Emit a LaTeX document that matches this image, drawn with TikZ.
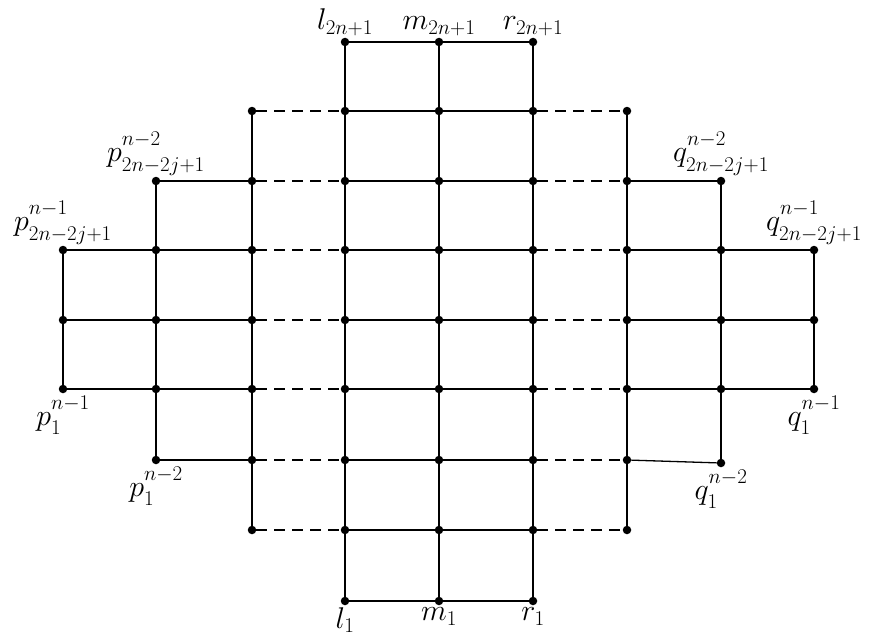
\RequirePackage{fix-cm}
\documentclass[tikz,border=0pt]{standalone}
\newcommand{\mylab}[3]{#1^{\raisebox{5pt}{$\scriptstyle #2$}}_{\raisebox{-2pt}{$\scriptstyle #3$}}}
\begin{document}
\begin{tikzpicture}[x=1pt,y=-1pt,
  dot/.style={circle,fill=black,inner sep=0pt,minimum size=8.5pt},
  edge/.style={line width=1.3pt},
  dedge/.style={line width=2pt,dash pattern=on 11pt off 7pt},
  lab/.style={font=\fontsize{30}{36}\selectfont,inner sep=1pt}]
\useasboundingbox (0,0) rectangle (869,642);
% dots
\foreach \r/\y/\s in {1/42/4,2/111/3,3/181/2,4/250/1,5/320/1,6/389/1,7/460/2,8/530/3,9/601/4}{
  \pgfmathtruncatemacro\e{10-\s}
  \foreach \c/\x in {1/63,2/156,3/252,4/345,5/439,6/533,7/627,8/721,9/814}{
    \pgfmathtruncatemacro\skipit{(\c<\s)||(\c>\e)||((\r==7)&&(\c==8))}
    \ifnum\skipit=0
      \node[dot] (n-\r-\c) at (\x,\y) {};
    \fi
  }
}
\node[dot] (n-7-8) at (721,463) {};
% horizontal edges
\foreach \r/\s in {1/4,2/3,3/2,4/1,5/1,6/1,7/2,8/3,9/4}{
  \pgfmathtruncatemacro\e{9-\s}
  \foreach \c in {\s,...,\e}{
    \pgfmathtruncatemacro\d{\c+1}
    \pgfmathtruncatemacro\isd{(\r>1)&&(\r<9)&&((\c==3)||(\c==6))}
    \ifnum\isd=1
      \draw[dedge] (n-\r-\c) -- (n-\r-\d);
    \else
      \draw[edge] (n-\r-\c) -- (n-\r-\d);
    \fi
  }
}
% vertical edges
\foreach \c/\t in {1/4,2/3,3/2,4/1,5/1,6/1,7/2,8/3,9/4}{
  \pgfmathtruncatemacro\e{9-\t}
  \foreach \r in {\t,...,\e}{
    \pgfmathtruncatemacro\d{\r+1}
    \draw[edge] (n-\r-\c) -- (n-\d-\c);
  }
}
% labels
\node[lab,anchor=south,yshift=1pt] (lt) at (n-1-4.north) {$l_{2n+1}$};
\node[lab,anchor=south,yshift=1pt] (mt) at (n-1-5.north) {$m_{2n+1}$};
\node[lab,anchor=south,yshift=1pt] (rt) at (n-1-6.north) {$r_{2n+1}$};
\node[lab,anchor=south,yshift=0pt] (pt2) at (n-3-2.north) {$\mylab{p}{n-2}{2n-2j+1}$};
\node[lab,anchor=south,yshift=0pt] (pt1) at (n-4-1.north) {$\mylab{p}{n-1}{2n-2j+1}$};
\node[lab,anchor=south,yshift=0pt] (qt2) at (n-3-8.north) {$\mylab{q}{n-2}{2n-2j+1}$};
\node[lab,anchor=south,yshift=0pt] (qt1) at (n-4-9.north) {$\mylab{q}{n-1}{2n-2j+1}$};
\node[lab,anchor=north,yshift=-1pt] (pb1) at (n-6-1.south) {$\mylab{p}{n-1}{1}$};
\node[lab,anchor=north,yshift=-1pt] (pb2) at (n-7-2.south) {$\mylab{p}{n-2}{1}$};
\node[lab,anchor=north,yshift=-1pt] (qb1) at (n-6-9.south) {$\mylab{q}{n-1}{1}$};
\node[lab,anchor=north,yshift=-1pt] (qb2) at (n-7-8.south) {$\mylab{q}{n-2}{1}$};
\node[lab,anchor=north,yshift=-1pt] (lb) at (n-9-4.south) {$l_1$};
\node[lab,anchor=north,yshift=-1pt] (mb) at (n-9-5.south) {$m_1$};
\node[lab,anchor=north,yshift=-1pt] (rb) at (n-9-6.south) {$r_1$};
\end{tikzpicture}
\end{document}
